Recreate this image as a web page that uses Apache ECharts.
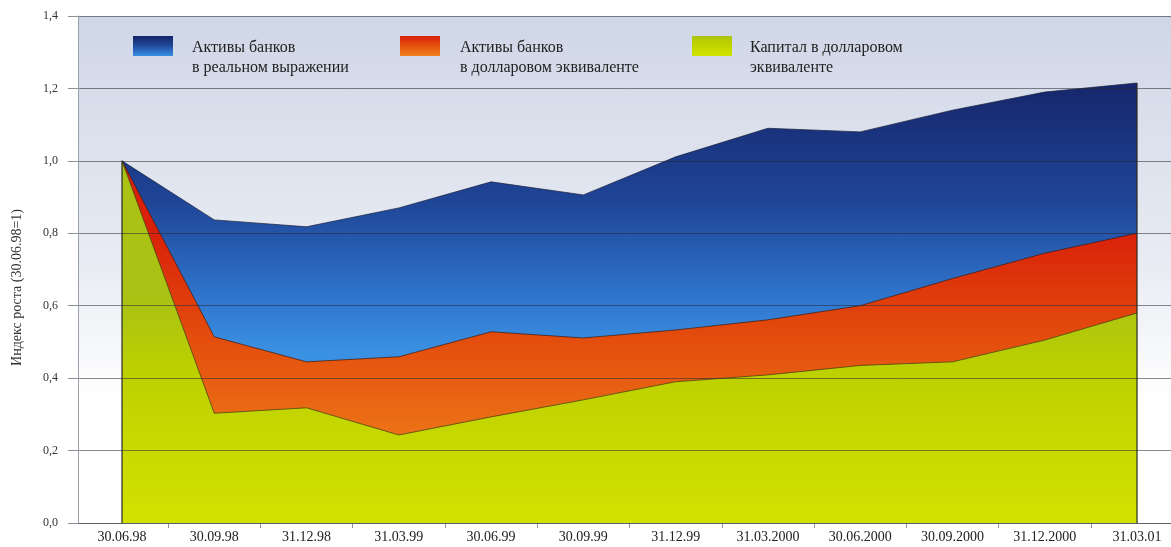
<!DOCTYPE html>
<html>
<head>
<meta charset="utf-8">
<script src="https://cdn.jsdelivr.net/npm/echarts@6/dist/echarts.min.js"></script>
<style>
  html, body { margin: 0; padding: 0; background: #fff; }
  #chart { width: 1171px; height: 547px; }
</style>
</head>
<body>
<div id="chart"></div>
<script>
// даты отчётных периодов
const dates = ['30.06.98', '30.09.98', '31.12.98', '31.03.99', '30.06.99', '30.09.99',
  '31.12.99', '31.03.2000', '30.06.2000', '30.09.2000', '31.12.2000', '31.03.01']

// индексы роста (30.06.98 = 1)
const assetsReal = [1.0, 0.837, 0.818, 0.87, 0.942, 0.906, 1.011, 1.09, 1.08, 1.14, 1.19, 1.215]
const assetsUsd = [1.0, 0.514, 0.445, 0.459, 0.528, 0.511, 0.533, 0.561, 0.60, 0.675, 0.745, 0.80]
const capitalUsd = [1.0, 0.303, 0.318, 0.243, 0.293, 0.34, 0.39, 0.409, 0.435, 0.445, 0.505, 0.58]

const seriesNames = [
  'Активы банков в реальном выражении',
  'Активы банков в долларовом эквиваленте',
  'Капитал в долларовом эквиваленте',
]
const legendLines = [
  'Активы банков\nв реальном выражении',
  'Активы банков\nв долларовом эквиваленте',
  'Капитал в долларовом\nэквиваленте',
]

// засечки оси X стоят между подписями
const midTicks = dates.slice(1).map((_, i) => i + 0.5)

const FONT = '"Liberation Serif", "DejaVu Serif", serif'

function vGrad(y, y2, stops, global) {
  return {
    type: 'linear', x: 0, y: y, x2: 0, y2: y2, global: !!global,
    colorStops: stops.map(([offset, color]) => ({ offset, color })),
  }
}

const blueStops = [[0, '#16256a'], [0.45, '#1f4597'], [0.8, '#2f74cc'], [1, '#3a90e2']]
const orangeStops = [[0, '#d8200a'], [0.4, '#e2480c'], [1, '#f0801a']]
const greenStops = [[0, '#a9c214'], [0.3, '#bcd000'], [1, '#d2e200']]

// плашка легенды и подпись к ней — отдельно, чтобы текст стоял ниже плашки
function legendSwatch(idx, left, stops) {
  return {
    left: left,
    top: 31,
    itemWidth: 40,
    itemHeight: 20,
    icon: 'rect',
    selectedMode: false,
    data: [{ name: seriesNames[idx], itemStyle: { color: vGrad(0, 1, stops) } }],
    formatter: () => '',
  }
}

function legendText(idx, left) {
  return {
    left: left,
    top: 33,
    itemWidth: 0,
    itemHeight: 0,
    icon: 'rect',
    selectedMode: false,
    data: [{ name: seriesNames[idx], itemStyle: { color: 'transparent' } }],
    formatter: () => legendLines[idx],
    textStyle: {
      fontFamily: FONT,
      fontSize: 16,
      lineHeight: 20,
      color: '#222',
    },
  }
}

const chart = echarts.init(document.getElementById('chart'))

chart.setOption({
  animation: false,
  backgroundColor: '#fff',
  legend: [
    legendSwatch(0, 128, blueStops),
    legendText(0, 182),
    legendSwatch(1, 395, orangeStops),
    legendText(1, 450),
    legendSwatch(2, 687, greenStops),
    legendText(2, 740),
  ],
  grid: [
    {
      // фон панели с сеткой
      left: 78, right: 0, top: 16, bottom: 24,
      show: true,
      borderWidth: 0,
      backgroundColor: vGrad(0, 1, [[0, '#cfd6e7'], [0.5, '#e9ecf3'], [0.75, '#ffffff'], [1, '#ffffff']]),
    },
    {
      // область данных
      left: 122, right: 34, top: 16, bottom: 24,
    },
  ],
  xAxis: [
    {
      gridIndex: 0,
      type: 'value',
      min: 0,
      max: 1,
      axisLine: { show: true, lineStyle: { color: '#9aa0aa' } },
      axisTick: { show: false },
      axisLabel: { show: false },
      splitLine: { show: false },
    },
    {
      gridIndex: 1,
      type: 'category',
      position: 'bottom',
      boundaryGap: false,
      data: dates,
      axisLine: { show: false },
      axisTick: { show: false },
      axisLabel: {
        fontFamily: FONT,
        fontSize: 14,
        color: '#222',
        margin: 7,
        interval: 0,
      },
    },
    {
      gridIndex: 1,
      type: 'value',
      position: 'bottom',
      offset: 0,
      min: 0,
      max: dates.length - 1,
      axisLine: { show: false },
      axisTick: { show: true, length: 5, customValues: midTicks, lineStyle: { color: '#8a8f99' } },
      axisLabel: { show: false },
      splitLine: { show: false },
    },
  ],
  yAxis: [
    {
      gridIndex: 0,
      type: 'value',
      min: 0,
      max: 1.4,
      interval: 0.2,
      z: 10,
      name: 'Индекс роста (30.06.98=1)',
      nameLocation: 'middle',
      nameGap: 54,
      nameTextStyle: { fontFamily: FONT, fontSize: 14, color: '#333', padding: [0, 36, 0, 0] },
      axisLine: { show: true, lineStyle: { color: '#9aa0aa' } },
      axisTick: { show: true, length: 10, lineStyle: { color: '#8a8f99' } },
      axisLabel: {
        fontFamily: FONT,
        fontSize: 12,
        color: '#333',
        margin: 20,
        formatter: (v) => v.toFixed(1).replace('.', ','),
      },
      splitLine: { show: true, lineStyle: { color: 'rgba(40,40,50,0.55)', width: 1 } },
    },
    {
      gridIndex: 1,
      type: 'value',
      min: 0,
      max: 1.4,
      interval: 0.2,
      show: false,
      splitLine: { show: false },
    },
  ],
  series: [
    {
      name: seriesNames[0],
      type: 'line',
      xAxisIndex: 1,
      yAxisIndex: 1,
      data: assetsReal,
      symbol: 'none',
      z: 2,
      lineStyle: { color: '#1a1f3a', width: 1, opacity: 0.7 },
      itemStyle: { color: '#1f4597' },
      areaStyle: { color: vGrad(80, 350, blueStops, true), opacity: 1 },
    },
    {
      name: seriesNames[1],
      type: 'line',
      xAxisIndex: 1,
      yAxisIndex: 1,
      data: assetsUsd,
      symbol: 'none',
      z: 3,
      lineStyle: { color: '#3a1a10', width: 1, opacity: 0.7 },
      itemStyle: { color: '#e2480c' },
      areaStyle: { color: vGrad(230, 470, orangeStops, true), opacity: 1 },
    },
    {
      name: seriesNames[2],
      type: 'line',
      xAxisIndex: 1,
      yAxisIndex: 1,
      data: capitalUsd,
      symbol: 'none',
      z: 4,
      lineStyle: { color: '#3a3a10', width: 1, opacity: 0.7 },
      itemStyle: { color: '#bcd000' },
      areaStyle: { color: vGrad(300, 523, greenStops, true), opacity: 1 },
      // тёмные боковые кромки областей
      markLine: {
        silent: true,
        symbol: 'none',
        label: { show: false },
        lineStyle: { color: '#2a2a20', type: 'solid', width: 1.5, opacity: 0.8 },
        data: [
          [{ coord: [0, 0] }, { coord: [0, assetsReal[0]] }],
          [{ coord: [dates.length - 1, 0] }, { coord: [dates.length - 1, assetsReal[dates.length - 1]] }],
        ],
      },
    },
  ],
})
</script>
</body>
</html>
